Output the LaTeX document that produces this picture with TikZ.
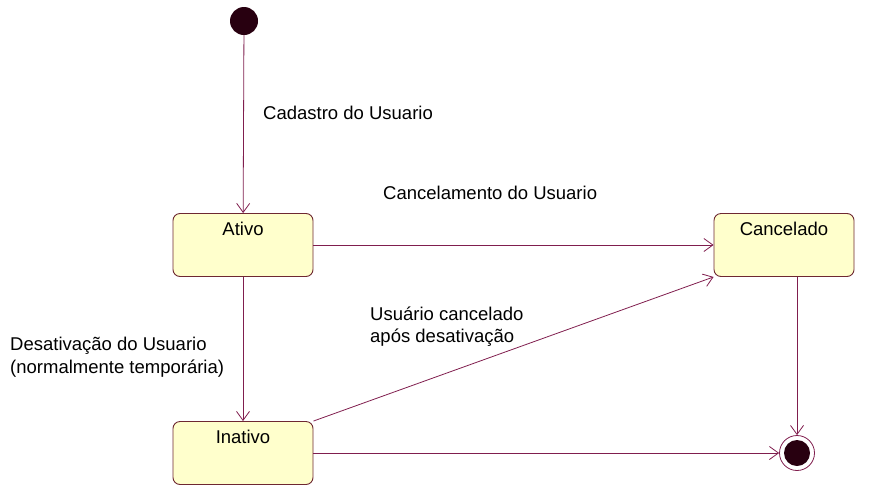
\documentclass[tikz,border=0pt]{standalone}
\usepackage{fontspec}
\setmainfont{Liberation Sans}
\usepackage{xcolor}
\usepackage{tikz}
\usetikzlibrary{positioning, arrows.meta}

\definecolor{umlline}{RGB}{128,30,78}
\definecolor{umlborder}{RGB}{110,40,50}
\definecolor{umlfill}{RGB}{255,255,204}
\definecolor{umldot}{RGB}{40,0,16}

\begin{document}
\begin{tikzpicture}[
  x=1pt, y=-1pt,
  every node/.style={inner sep=0pt, font=\fontsize{18.5}{23}\selectfont},
  state/.style={draw=umlborder, fill=umlfill, rounded corners=7pt, line width=0.9pt,
                minimum width=140pt, text height=22pt, text depth=41pt},
  initial/.style={circle, fill=umldot, minimum size=28pt},
  final/.style={circle, draw=umlline, line width=0.8pt, minimum size=35pt,
                path picture={\fill[umldot] (path picture bounding box.center) circle (13pt);}},
  ann/.style={align=left, anchor=west},
  trans/.style={-{Straight Barb[length=9pt, width=13pt, line width=0.8pt]}, umlline, line width=0.8pt}
]
\useasboundingbox (0,0) rectangle (872,485);

% States
\node[initial] (start) at (244,21) {};
\node[state] (ativo) at (243,245) {Ativo};
\node[state] (cancelado) at (784,245) {Cancelado};
\node[state] (inativo) at (243,453) {Inativo};
\node[final] (fim) at (797,453) {};

% Transitions
\draw[trans] (start) -- (ativo);
\draw[trans] (ativo) -- (cancelado);
\draw[trans] (ativo) -- (inativo);
\draw[trans] (inativo.north east) -- (cancelado.south west);
\draw[trans] (inativo) -- (fim);
\draw[trans] (fim |- cancelado.south) -- (fim);

% Labels
\node[ann] (l_cadastro) at (263,113) {Cadastro do Usuario};
\node[ann] (l_cancel) at (383,193) {Cancelamento do Usuario};
\node[ann] (l_desat) at (10,357) {Desativação do Usuario\\(normalmente temporária)};
\node[ann, font=\fontsize{18.5}{22}\selectfont] (l_apos) at (370,327) {Usuário cancelado\\após desativação};

\end{tikzpicture}
\end{document}
